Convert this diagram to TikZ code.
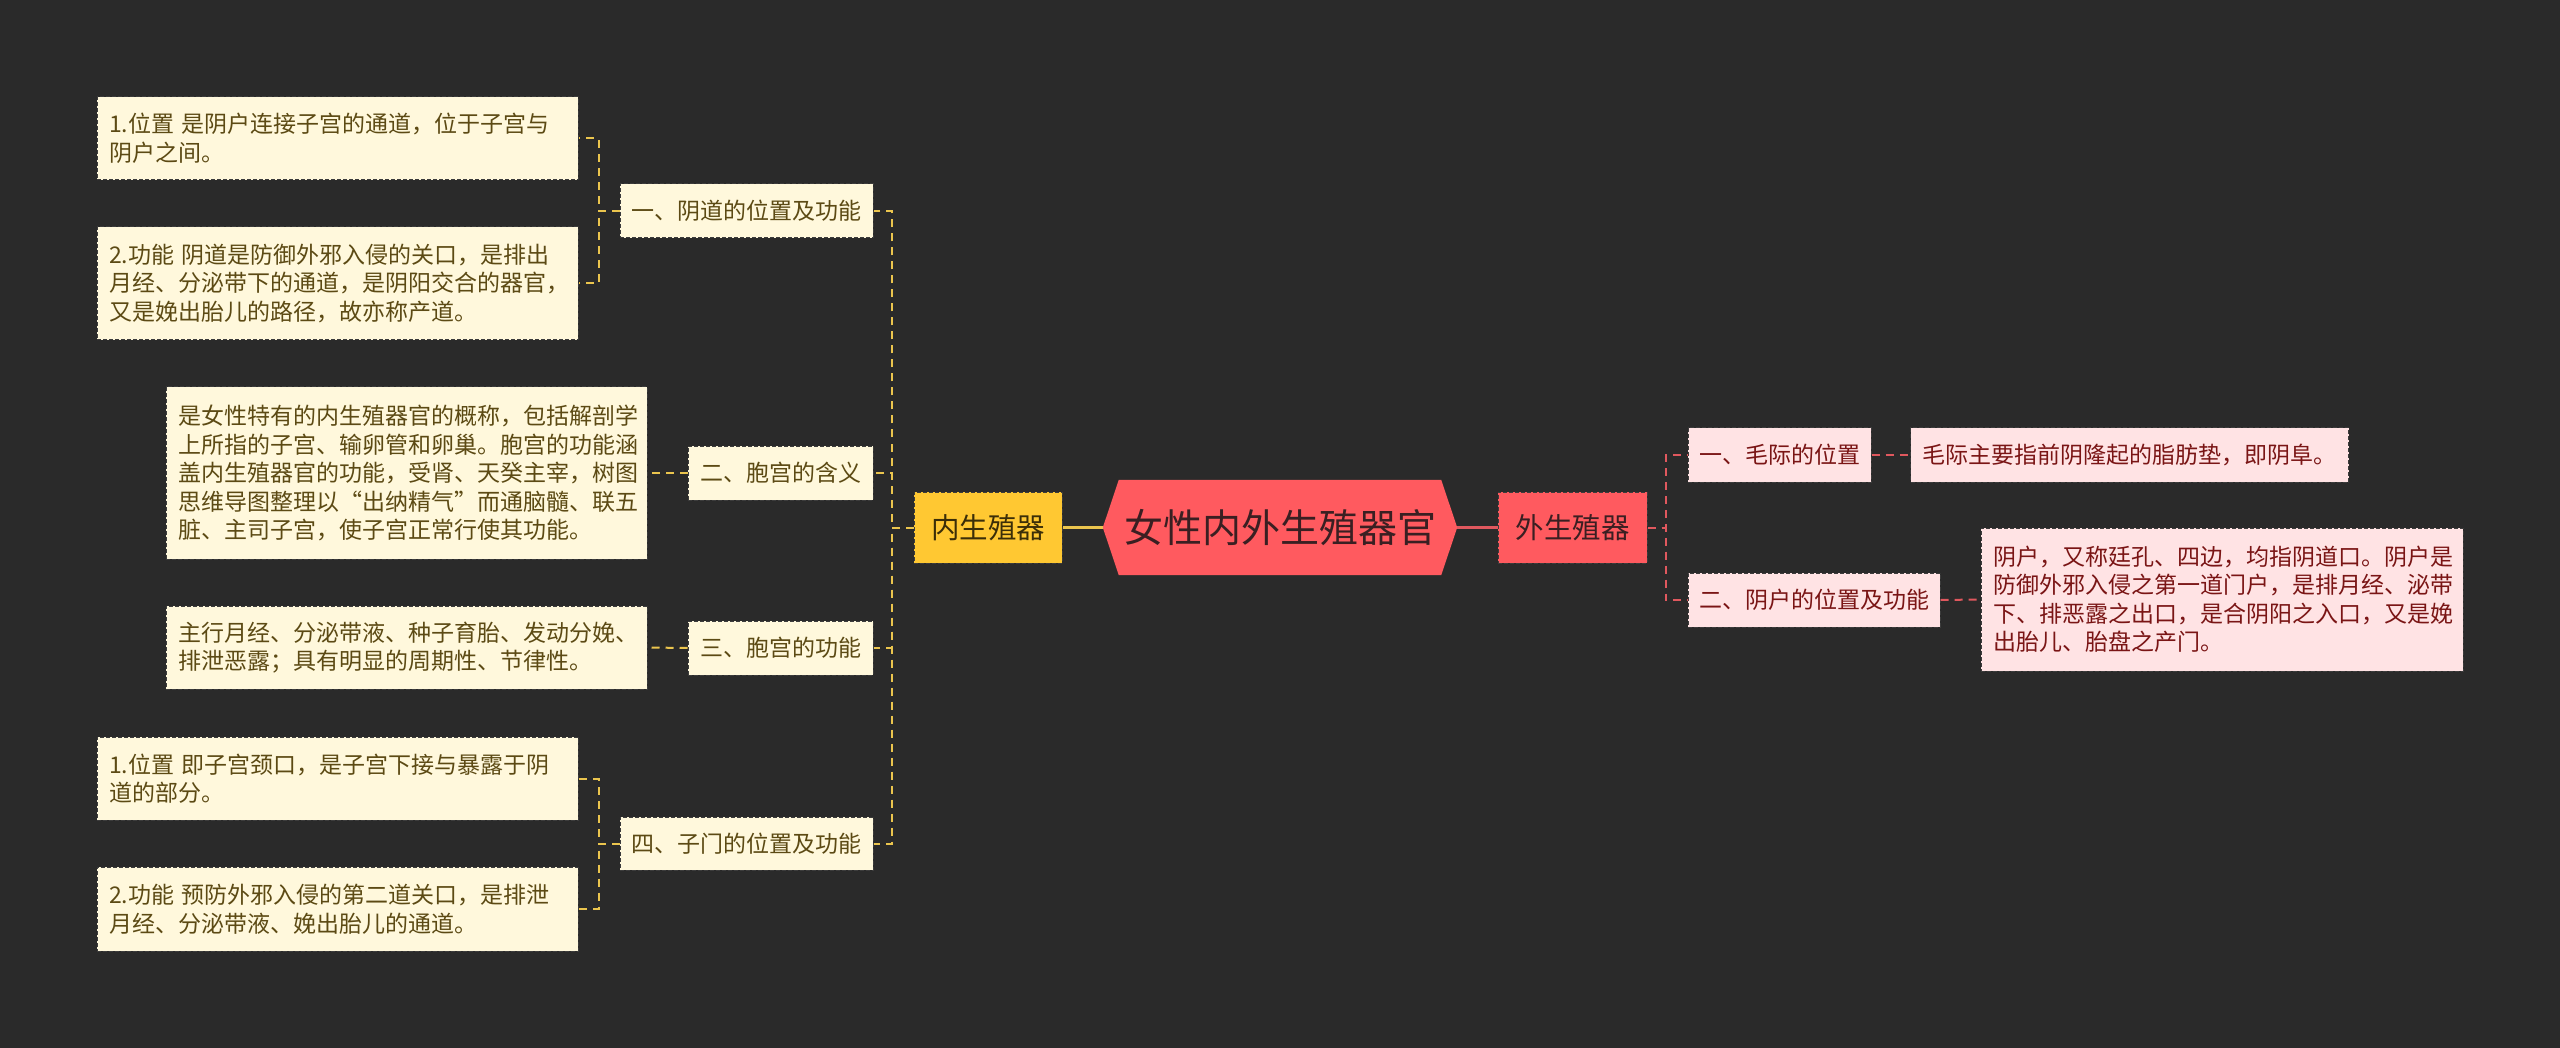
\documentclass[tikz,border=0pt]{standalone}
\usepackage{fontspec}
\setmainfont{Noto Sans CJK SC}
\usetikzlibrary{calc,backgrounds}
\definecolor{bgc}{HTML}{2A2A2A}
\definecolor{cream}{HTML}{FFF8DC}
\definecolor{creamtext}{HTML}{5C4A14}
\definecolor{yline}{HTML}{EBC54E}
\definecolor{goldfill}{HTML}{FFC832}
\definecolor{goldtext}{HTML}{3B2E08}
\definecolor{rootred}{HTML}{FF5A5F}
\definecolor{roottext}{HTML}{3A1F22}
\definecolor{pinkfill}{HTML}{FFE3E4}
\definecolor{pinktext}{HTML}{7A1515}
\definecolor{rline}{HTML}{E0585E}
\definecolor{edge}{HTML}{3C3C3C}
\begin{document}
\begin{tikzpicture}[x=1pt,y=-1pt,
  smallfont/.style={font=\fontsize{23}{28.5}\selectfont},
  leafY/.style={smallfont, draw=edge, dash pattern=on 4pt off 2pt, line width=1pt, fill=cream, text=creamtext, align=left, text width=457pt, inner xsep=12pt, inner ysep=4pt, anchor=center},
  catY/.style={smallfont, draw=edge, dash pattern=on 4pt off 2pt, line width=1pt, fill=cream, text=creamtext, inner sep=0pt, minimum height=54pt, anchor=center},
  leafR/.style={smallfont, draw=edge, dash pattern=on 4pt off 2pt, line width=1pt, fill=pinkfill, text=pinktext, align=left, inner xsep=12pt, inner ysep=4pt, anchor=center},
  catR/.style={smallfont, draw=edge, dash pattern=on 4pt off 2pt, line width=1pt, fill=pinkfill, text=pinktext, inner sep=0pt, minimum height=54pt, anchor=center},
  mainbox/.style={font=\fontsize{28.5}{34}\selectfont, draw=edge, dash pattern=on 4pt off 2pt, line width=1pt, inner sep=0pt, minimum width=148pt, minimum height=71pt, anchor=center},
  yconn/.style={draw=yline, line width=2pt, dash pattern=on 8pt off 6pt},
  rconn/.style={draw=rline, line width=2pt, dash pattern=on 8pt off 6pt},
  ysolid/.style={draw=yline, line width=3.5pt},
  rsolid/.style={draw=rline, line width=3.5pt}
]
\begin{pgfonlayer}{background}
\fill[bgc] (0,0) rectangle (2560,1048);
\end{pgfonlayer}
\useasboundingbox (0,0) rectangle (2560,1048);

% root
\node[font=\fontsize{39}{44}\selectfont, text=roottext, minimum width=354pt, minimum height=95pt, inner sep=0pt, anchor=center] (root) at (1280,527.5) {女性内外生殖器官};
\begin{pgfonlayer}{background}
\fill[rootred] ($(root.north west)+(16,0)$) -- ($(root.north east)+(-16,0)$) -- (root.east) -- ($(root.south east)+(-16,0)$) -- ($(root.south west)+(16,0)$) -- (root.west) -- cycle;
\end{pgfonlayer}

% main branches
\node[mainbox, fill=goldfill, text=goldtext] (inner) at (988,527.5) {内生殖器};
\node[mainbox, fill=rootred, text=roottext, minimum width=149pt] (outer) at (1572.5,527.5) {外生殖器};

% left categories
\node[catY, minimum width=253pt] (N1) at (746.5,211) {一、阴道的位置及功能};
\node[catY, minimum width=185pt] (N2) at (780.5,473) {二、胞宫的含义};
\node[catY, minimum width=185pt] (N3) at (780.5,648) {三、胞宫的功能};
\node[catY, minimum width=253pt, minimum height=53pt] (N4) at (746.5,843.5) {四、子门的位置及功能};

% left leaves
\node[leafY, minimum height=83pt] (L1a) at (337.5,138.5) {1.位置 是阴户连接子宫的通道，位于子宫与\\阴户之间。};
\node[leafY, minimum height=113pt] (L1b) at (337.5,283.5) {2.功能 阴道是防御外邪入侵的关口，是排出\\月经、分泌带下的通道，是阴阳交合的器官，\\又是娩出胎儿的路径，故亦称产道。};
\node[leafY, minimum height=172pt] (L2) at (406.5,473) {是女性特有的内生殖器官的概称，包括解剖学\\上所指的子宫、输卵管和卵巢。胞宫的功能涵\\盖内生殖器官的功能，受肾、天癸主宰，树图\\思维导图整理以“出纳精气”而通脑髓、联五\\脏、主司子宫，使子宫正常行使其功能。};
\node[leafY, minimum height=83pt] (L3) at (406.5,647.5) {主行月经、分泌带液、种子育胎、发动分娩、\\排泄恶露；具有明显的周期性、节律性。};
\node[leafY, minimum height=83pt] (L4a) at (337.5,778.5) {1.位置 即子宫颈口，是子宫下接与暴露于阴\\道的部分。};
\node[leafY, minimum height=84pt] (L4b) at (337.5,909) {2.功能 预防外邪入侵的第二道关口，是排泄\\月经、分泌带液、娩出胎儿的通道。};

% right categories
\node[catR, minimum width=183pt] (R1) at (1779.5,455) {一、毛际的位置};
\node[catR, minimum width=252pt] (R2) at (1814,600) {二、阴户的位置及功能};

% right leaves
\node[leafR, minimum width=435pt, minimum height=54pt] (R1d) at (2129.5,455) {毛际主要指前阴隆起的脂肪垫，即阴阜。};
\node[leafR, text width=458pt, minimum height=143pt] (R2d) at (2222,599.5) {阴户，又称廷孔、四边，均指阴道口。阴户是\\防御外邪入侵之第一道门户，是排月经、泌带\\下、排恶露之出口，是合阴阳之入口，又是娩\\出胎儿、胎盘之产门。};

% connectors
\draw[ysolid] (root.west) -- (inner.east);
\draw[rsolid] (root.east) -- (outer.west);

\draw[yconn] (inner.west) -- ++(-22,0) |- (N1.east);
\draw[yconn] (inner.west) -- ++(-22,0) |- (N2.east);
\draw[yconn] (inner.west) -- ++(-22,0) |- (N3.east);
\draw[yconn] (inner.west) -- ++(-22,0) |- (N4.east);

\draw[yconn] (N1.west) -- ++(-21,0) |- (L1a.east);
\draw[yconn] (N1.west) -- ++(-21,0) |- (L1b.east);
\draw[yconn] (N2.west) -- (L2.east);
\draw[yconn] (N3.west) -- (L3.east);
\draw[yconn] (N4.west) -- ++(-21,0) |- (L4a.east);
\draw[yconn] (N4.west) -- ++(-21,0) |- (L4b.east);

\draw[rconn] (outer.east) -- ++(18,0) |- (R1.west);
\draw[rconn] (outer.east) -- ++(18,0) |- (R2.west);
\draw[rconn] (R1.east) -- (R1d.west);
\draw[rconn] (R2.east) -- (R2d.west);
\end{tikzpicture}
\end{document}
